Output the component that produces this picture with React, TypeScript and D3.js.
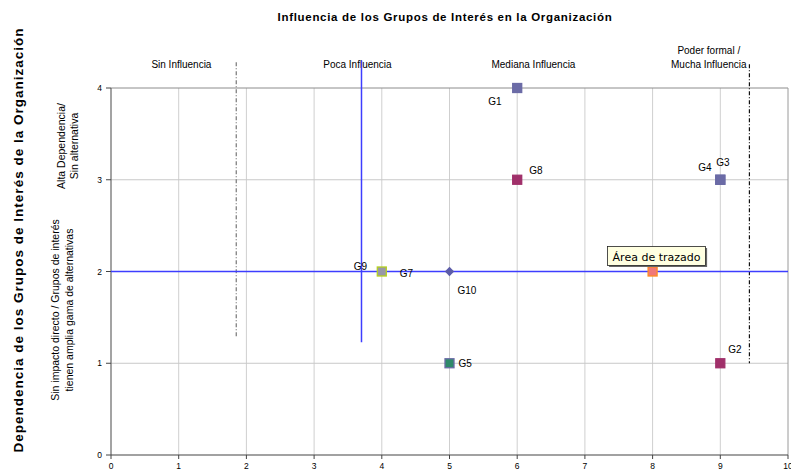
import React from "react";
import * as d3 from "d3";

const groupLabels = ["G1", "G2", "G3", "G4", "G5", "G6", "G7", "G8", "G9", "G10"];
const influence = [6, 9, 9, 9, 5, 8, 4, 6, 4, 5];
const dependence = [4, 1, 3, 3, 1, 2, 2, 3, 2, 2];
const xTicks = [0, 1, 2, 3, 4, 5, 6, 7, 8, 9, 10];
const yTicks = [0, 1, 2, 3, 4];
const zoneLabels = ["Sin Influencia", "Poca Influencia", "Mediana Influencia", "Poder formal /|Mucha Influencia"];
const zoneCenters = [1.04, 3.64, 6.24, 8.83];
const dashLinesX = [1.85, 9.43];
const dashLinesTop = [4.28, 4.26];
const dashLinesBottom = [1.28, 1.0];
const blueVX = 3.7;
const blueVTop = 4.3;
const blueVBottom = 1.23;
const blueHY = 2;

// styles per point (marker, fill, stroke, label offset)
const markerStyle = [
  { shape: "sq", fill: "#6b6ba6", stroke: "#6b6ba6", dx: -29, dy: 13, show: true },
  { shape: "sq", fill: "#a0306a", stroke: "#a0306a", dx: 8, dy: -14, show: true },
  { shape: "sq", fill: "#6b6ba6", stroke: "#6b6ba6", dx: -4, dy: -18, show: true },
  { shape: "sq", fill: "#6b6ba6", stroke: "#6b6ba6", dx: -22, dy: -13, show: true },
  { shape: "sq", fill: "#2f8a6a", stroke: "#6b6ba6", dx: 9, dy: 0, show: true },
  { shape: "sq", fill: "#f07878", stroke: "#ff8a20", dx: 8, dy: -10, show: false },
  { shape: "sq", fill: "#9898a8", stroke: "#b4d020", dx: 18, dy: 1, show: true },
  { shape: "sq", fill: "#a0306a", stroke: "#a0306a", dx: 12, dy: -10, show: true },
  { shape: "none", fill: "#b4d020", stroke: "#b4d020", dx: -28, dy: -6, show: true },
  { shape: "dia", fill: "#5c5ca8", stroke: "#5c5ca8", dx: 8, dy: 18, show: true },
];

const W = 791;
const H = 475;
const x = d3.scaleLinear().domain([0, 10]).range([111, 788]);
const y = d3.scaleLinear().domain([0, 4]).range([455, 88]);
const FONT = "'Liberation Sans', Arial, sans-serif";
const BLUE = "#3d3dff";

export default function App() {
  return (
    <svg width={W} height={H} style={{ position: "absolute", left: 0, top: 0, background: "#fff" }} fontFamily={FONT}>
      <rect x={0} y={0} width={W} height={H} fill="#fff" />
      <text x={445} y={21} textAnchor="middle" fontSize={11.5} fontWeight="bold" letterSpacing={0.7}>
        Influencia de los Grupos de Interés en la Organización
      </text>
      {/* y-axis title */}
      <text transform="translate(23,240) rotate(-90)" textAnchor="middle" fontSize={13.5} fontWeight="bold" letterSpacing={1.0}>
        Dependencia de los Grupos de Interés de la Organización
      </text>
      <text transform="translate(65,146) rotate(-90)" textAnchor="middle" fontSize={10.5}>Alta Dependencia/</text>
      <text transform="translate(78,146) rotate(-90)" textAnchor="middle" fontSize={10.5}>Sin alternativa</text>
      <text transform="translate(59,310) rotate(-90)" textAnchor="middle" fontSize={10.5}>Sin impacto directo / Grupos de interés</text>
      <text transform="translate(73,310) rotate(-90)" textAnchor="middle" fontSize={10.5}>tienen amplia gama de alternativas</text>

      {/* grid */}
      {xTicks.slice(1, -1).map((t) => (
        <line key={"gx" + t} x1={x(t)} x2={x(t)} y1={y(0)} y2={y(4)} stroke="#cfcfcf" strokeWidth={1} />
      ))}
      {yTicks.slice(1, -1).map((t) => (
        <line key={"gy" + t} x1={x(0)} x2={x(10)} y1={y(t)} y2={y(t)} stroke="#c8c8c8" strokeWidth={1} />
      ))}
      <line x1={x(0)} x2={x(10)} y1={y(4)} y2={y(4)} stroke="#8c8c8c" />
      <line x1={x(10)} x2={x(10)} y1={y(4)} y2={y(0)} stroke="#9a9a9a" />

      {/* axes */}
      <line x1={x(0)} x2={x(0)} y1={y(4)} y2={y(0)} stroke="#666" strokeWidth={1.2} />
      <line x1={x(0)} x2={x(10)} y1={y(0)} y2={y(0)} stroke="#444" strokeWidth={1.2} />
      {yTicks.map((t) => (
        <g key={"yt" + t}>
          <line x1={x(0) - 5} x2={x(0)} y1={y(t)} y2={y(t)} stroke="#444" />
          <text x={x(0) - 9} y={y(t) + 3} textAnchor="end" fontSize={8.5}>{t}</text>
        </g>
      ))}
      {xTicks.map((t) => (
        <g key={"xt" + t}>
          <line x1={x(t)} x2={x(t)} y1={y(0)} y2={y(0) + 4} stroke="#444" />
          <text x={x(t)} y={y(0) + 14} textAnchor="middle" fontSize={8.5}>{t}</text>
        </g>
      ))}

      {/* zone labels */}
      {zoneLabels.map((l, i) => {
        const parts = l.split("|");
        return parts.map((p, j) => (
          <text key={"z" + i + j} x={x(zoneCenters[i])} y={68 - (parts.length - 1 - j) * 14} textAnchor="middle" fontSize={10}>
            {p}
          </text>
        ));
      })}

      {/* reference lines */}
      {dashLinesX.map((v, i) => (
        <line key={"dl" + i} x1={x(v)} x2={x(v)} y1={y(dashLinesTop[i])} y2={y(dashLinesBottom[i])}
          stroke={i === 0 ? "#777" : "#111"} strokeWidth={1.2} strokeDasharray="4,2,1,2" />
      ))}
      <line x1={x(0)} x2={x(10)} y1={y(blueHY)} y2={y(blueHY)} stroke={BLUE} strokeWidth={1.5} />
      <line x1={x(blueVX)} x2={x(blueVX)} y1={y(blueVTop)} y2={y(blueVBottom)} stroke={BLUE} strokeWidth={1.5} />

      {/* points */}
      {groupLabels.map((g, i) => {
        const s = markerStyle[i];
        const cx = x(influence[i]);
        const cy = y(dependence[i]);
        return (
          <g key={g}>
            {s.shape === "sq" && (
              <rect x={cx - 4.5} y={cy - 4.5} width={9} height={9} fill={s.fill} stroke={s.stroke} strokeWidth={1.3} />
            )}
            {s.shape === "dia" && (
              <rect x={-3.3} y={-3.3} width={6.6} height={6.6} transform={`translate(${cx},${cy}) rotate(45)`} fill={s.fill} />
            )}
            {s.show && (
              <text x={cx + s.dx} y={cy + s.dy + 4} fontSize={10}>{g}</text>
            )}
          </g>
        );
      })}

      {/* tooltip */}
      <g transform={`translate(${x(8) - 45},${y(2) - 25})`}>
        <rect x={1.5} y={1.5} width={98} height={19} fill="#666" />
        <rect x={0} y={0} width={98} height={19} fill="#ffffe1" stroke="#222" strokeWidth={0.8} />
        <text x={5} y={14} fontSize={11} fontFamily="'DejaVu Sans', Tahoma, sans-serif">Área de trazado</text>
      </g>
    </svg>
  );
}
